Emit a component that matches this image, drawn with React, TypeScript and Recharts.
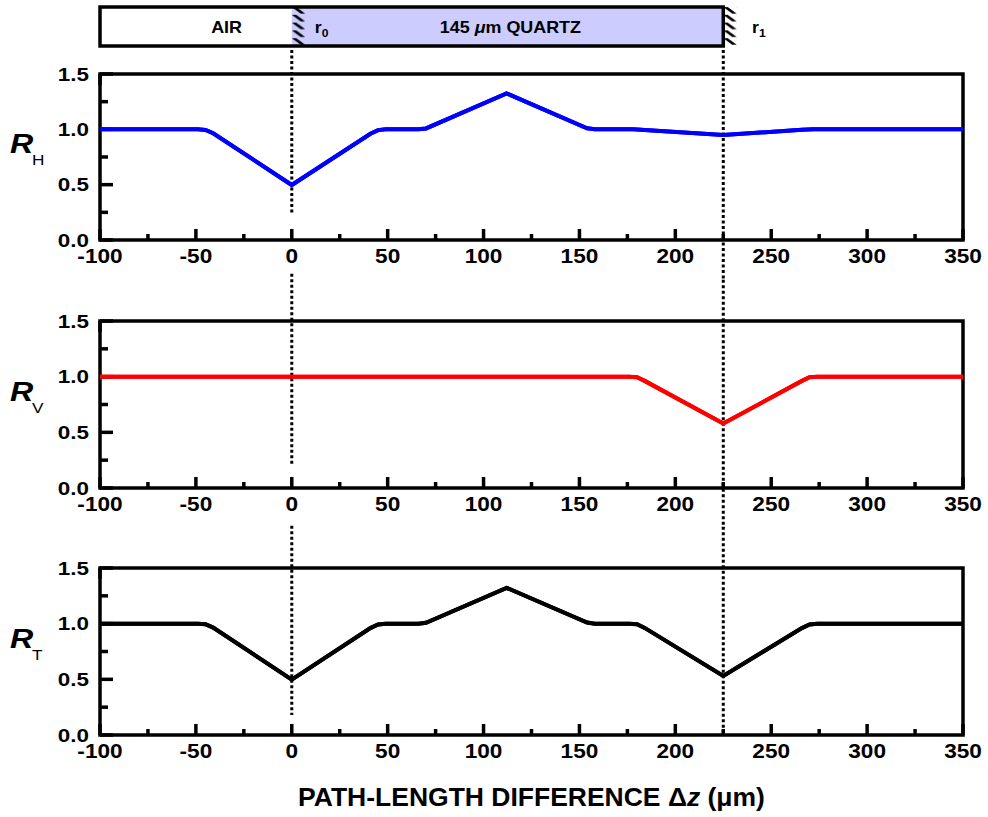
import React from 'react';
import { LineChart, Line, XAxis, YAxis, ReferenceArea, ReferenceLine, ReferenceDot } from 'recharts';

const X_TICKS = [-100, -75, -50, -25, 0, 25, 50, 75, 100, 125, 150, 175, 200, 225, 250, 275, 300, 325, 350];
const Y_TICKS = [0, 0.25, 0.5, 0.75, 1, 1.25, 1.5];
const X_DOMAIN: [number, number] = [-100, 350];
const Y_DOMAIN: [number, number] = [0, 1.5];

const RH_DATA = [
  { z: -100, r: 1.0 }, { z: -49, r: 1.0 }, { z: -45, r: 0.995 }, { z: -41, r: 0.965 },
  { z: 0, r: 0.497 }, { z: 41, r: 0.96 }, { z: 45, r: 0.993 }, { z: 49, r: 1.0 },
  { z: 66, r: 1.0 }, { z: 70, r: 1.008 }, { z: 112, r: 1.325 }, { z: 154, r: 1.01 },
  { z: 158, r: 1.0 }, { z: 178, r: 1.0 }, { z: 225, r: 0.948 }, { z: 266, r: 0.996 },
  { z: 272, r: 1.0 }, { z: 350, r: 1.0 },
];
const RV_DATA = [
  { z: -100, r: 1.0 }, { z: 176, r: 1.0 }, { z: 180, r: 0.995 }, { z: 184, r: 0.962 },
  { z: 225, r: 0.58 }, { z: 266, r: 0.962 }, { z: 270, r: 0.995 }, { z: 274, r: 1.0 },
  { z: 350, r: 1.0 },
];
const RT_DATA = [
  { z: -100, r: 1.0 }, { z: -49, r: 1.0 }, { z: -45, r: 0.995 }, { z: -41, r: 0.965 },
  { z: 0, r: 0.497 }, { z: 41, r: 0.96 }, { z: 45, r: 0.993 }, { z: 49, r: 1.0 },
  { z: 66, r: 1.0 }, { z: 70, r: 1.008 }, { z: 112, r: 1.322 }, { z: 154, r: 1.01 },
  { z: 158, r: 1.0 }, { z: 176, r: 1.0 }, { z: 180, r: 0.995 }, { z: 184, r: 0.962 },
  { z: 225, r: 0.53 }, { z: 266, r: 0.96 }, { z: 270, r: 0.993 }, { z: 274, r: 1.0 },
  { z: 350, r: 1.0 },
];

// dotted interface markers (x value, from y, to y) per panel
const P1_DOTTED = [{ x: 0, y1: 1.717, y2: 0.226 }, { x: 225, y1: 1.717, y2: -0.37 }];
const P2_DOTTED = [{ x: 0, y1: 1.925, y2: 0.208 }, { x: 225, y1: 1.87, y2: -0.361 }];
const P3_DOTTED = [{ x: 0, y1: 1.88, y2: 0.18 }, { x: 225, y1: 1.87, y2: -0.01 }];

// sample bar above first panel
const BAR_Y: [number, number] = [1.753, 2.105];
const BAR_MID = 1.929;
const AIR_RANGE: [number, number] = [-100, 0];
const QUARTZ_RANGE: [number, number] = [0, 225];
const HATCHES: [number, number][] = [[0, 7], [225, 232]];
const BAR_LABELS = [
  { x: -34, text: 'AIR', sub: '' },
  { x: 14, text: 'r', sub: '0' },
  { x: 114, text: 'QUARTZ', sub: '' },
  { x: 242, text: 'r', sub: '1' },
];

const FONT = '"Liberation Sans", Arial, Helvetica, sans-serif';
const SX = 1.2;
const W = 988;
const M_TOP = 73;
const M_RIGHT = 24;
const LEFT_W = 100;

const isMajorX = (v: number) => Math.abs(v % 50) < 1e-9;
const isMajorY = (v: number) => Math.abs(v * 2 - Math.round(v * 2)) < 1e-9;

function SText({ x, y, anchor = 'middle', size, weight = 'bold', sx = SX, children }: any) {
  return (
    <text
      transform={`translate(${x},${y}) scale(${sx},1)`}
      x={0}
      y={0}
      textAnchor={anchor}
      fontFamily={FONT}
      fontSize={size}
      fontWeight={weight}
      fill="#000"
    >
      {children}
    </text>
  );
}

const BottomTick = (p: any) => {
  const v = p.payload.value;
  const major = isMajorX(v);
  return (
    <g>
      <line x1={p.x} x2={p.x} y1={p.y} y2={p.y - (major ? 11 : 6)} stroke="#000" strokeWidth={3.5} />
      {major && (
        <SText x={p.x} y={p.y + 23} size={19.5} sx={1.16}>
          {String(v)}
        </SText>
      )}
    </g>
  );
};

const TopTick = (p: any) => {
  const v = p.payload.value;
  const major = isMajorX(v);
  return <line x1={p.x} x2={p.x} y1={p.y} y2={p.y + (major ? 11 : 6)} stroke="#000" strokeWidth={3.5} />;
};

const LeftTick = (p: any) => {
  const v = p.payload.value;
  const major = isMajorY(v);
  return (
    <g>
      <line x1={p.x} x2={p.x + (major ? 13 : 8)} y1={p.y} y2={p.y} stroke="#000" strokeWidth={3.5} />
      {major && (
        <SText x={p.x - 11} y={p.y + 6.5} size={19} anchor="end" sx={1.18}>
          {v.toFixed(1)}
        </SText>
      )}
    </g>
  );
};

const RightTick = (p: any) => {
  const v = p.payload.value;
  const major = isMajorY(v);
  return <line x1={p.x} x2={p.x - (major ? 13 : 8)} y1={p.y} y2={p.y} stroke="#000" strokeWidth={3.5} />;
};

const RLabel = (sub: string) => (p: any) => {
  const vb = p.viewBox || {};
  const cy = vb.y + vb.height / 2;
  return (
    <g>
      <SText x={vb.x + 10} y={cy - 4} size={28} anchor="start" sx={1.15}>
        <tspan fontStyle="italic">R</tspan>
      </SText>
      <SText x={vb.x + 32} y={cy + 8} size={15} anchor="start" weight="normal" sx={1.15}>
        {sub}
      </SText>
    </g>
  );
};

const TitleLabel = (p: any) => {
  const vb = p.viewBox || {};
  return (
    <SText x={vb.x + vb.width / 2} y={vb.y + 71} size={25} sx={1.06}>
      <tspan>PATH-LENGTH DIFFERENCE </tspan>
      <tspan>Δ</tspan>
      <tspan fontStyle="italic">z</tspan>
      <tspan> (μm)</tspan>
    </SText>
  );
};

const barLabel = (item: { text: string; sub: string }) => (p: any) => {
  const vb = p.viewBox || {};
  const cx = vb.x + (vb.width || 0) / 2;
  const cy = vb.y + (vb.height || 0) / 2;
  if (item.text === 'QUARTZ') {
    return (
      <SText x={cx} y={cy + 6} size={16} sx={1.12}>
        <tspan>145 </tspan>
        <tspan fontStyle="italic">μ</tspan>
        <tspan>m QUARTZ</tspan>
      </SText>
    );
  }
  if (item.sub) {
    return (
      <g>
        <SText x={cx - 4} y={cy + 6} size={16} anchor="start" sx={1.1}>
          {item.text}
        </SText>
        <SText x={cx + 3} y={cy + 10} size={11} anchor="start" sx={1.1}>
          {item.sub}
        </SText>
      </g>
    );
  }
  return (
    <SText x={cx} y={cy + 6} size={16} sx={1.12}>
      {item.text}
    </SText>
  );
};

function Panel({ data, color, sub, top, height, axisHeight, dotted, showBar, title }: any) {
  return (
    <div style={{ position: 'absolute', left: 0, top, width: W, height }}>
      <div style={{ position: 'absolute', left: 0, top: 0 }}>
        <LineChart width={W} height={height} data={data} margin={{ top: M_TOP, right: M_RIGHT, bottom: 0, left: 0 }}>
          <defs>
            <pattern id={`hatch${sub}`} patternUnits="objectBoundingBox" width="1" height="0.2" patternContentUnits="objectBoundingBox">
              <polygon points="0,0 0.33,0 1,0.17 0.67,0.17" fill="#000" />
            </pattern>
          </defs>
          <XAxis
            dataKey="z"
            type="number"
            domain={X_DOMAIN}
            ticks={X_TICKS}
            interval={0}
            height={axisHeight}
            axisLine={false}
            tickLine={false}
            tickSize={0}
            tickMargin={0}
            tick={BottomTick}
            label={title ? TitleLabel : undefined}
          />
          <XAxis
            xAxisId="top"
            orientation="top"
            type="number"
            domain={X_DOMAIN}
            ticks={X_TICKS}
            interval={0}
            height={1}
            axisLine={false}
            tickLine={false}
            tickSize={0}
            tickMargin={0}
            tick={TopTick}
          />
          <YAxis
            type="number"
            domain={Y_DOMAIN}
            ticks={Y_TICKS}
            interval={0}
            width={LEFT_W}
            axisLine={false}
            tickLine={false}
            tickSize={0}
            tickMargin={0}
            tick={LeftTick}
            label={RLabel(sub)}
          />
          <YAxis
            yAxisId="right"
            orientation="right"
            type="number"
            domain={Y_DOMAIN}
            ticks={Y_TICKS}
            interval={0}
            width={1}
            axisLine={false}
            tickLine={false}
            tickSize={0}
            tickMargin={0}
            tick={RightTick}
          />
          {showBar && (
            <ReferenceArea x1={AIR_RANGE[0]} x2={AIR_RANGE[1]} y1={BAR_Y[0]} y2={BAR_Y[1]} ifOverflow="visible" fill="#ffffff" fillOpacity={1} stroke="none" />
          )}
          {showBar && (
            <ReferenceArea x1={QUARTZ_RANGE[0]} x2={QUARTZ_RANGE[1]} y1={BAR_Y[0]} y2={BAR_Y[1]} ifOverflow="visible" fill="#ccccff" fillOpacity={1} stroke="none" />
          )}
          {showBar &&
            HATCHES.map((h, i) => (
              <ReferenceArea key={`h${i}`} x1={h[0]} x2={h[1]} y1={BAR_Y[0]} y2={BAR_Y[1]} ifOverflow="visible" fill={`url(#hatch${sub})`} fillOpacity={1} stroke="none" />
            ))}
          {showBar && (
            <ReferenceArea x1={AIR_RANGE[0]} x2={QUARTZ_RANGE[1]} y1={BAR_Y[0]} y2={BAR_Y[1]} ifOverflow="visible" fill="none" stroke="#000" strokeWidth={3.5} />
          )}
          {showBar &&
            BAR_LABELS.map((b, i) => (
              <ReferenceDot key={`b${i}`} x={b.x} y={BAR_MID} r={1} ifOverflow="visible" fill="none" stroke="none" label={barLabel(b)} />
            ))}
          {dotted.map((d: any, i: number) => (
            <ReferenceLine
              key={`d${i}`}
              segment={[{ x: d.x, y: d.y1 }, { x: d.x, y: d.y2 }]}
              ifOverflow="visible"
              stroke="#000"
              strokeWidth={3}
              strokeDasharray="3 2.5"
            />
          ))}
          <ReferenceArea x1={X_DOMAIN[0]} x2={X_DOMAIN[1]} y1={Y_DOMAIN[0]} y2={Y_DOMAIN[1]} fill="none" stroke="#000" strokeWidth={3.5} />
          <Line type="linear" dataKey="r" stroke={color} strokeWidth={4} dot={false} isAnimationActive={false} />
        </LineChart>
      </div>
      {/* same series again in an overlay with the same plot area, so it sits above the frame ticks */}
      <div style={{ position: 'absolute', left: 0, top: 0 }}>
        <LineChart width={W} height={height} data={data} margin={{ top: M_TOP, right: M_RIGHT, bottom: 0, left: 0 }}>
          <XAxis dataKey="z" type="number" domain={X_DOMAIN} ticks={X_TICKS} height={axisHeight} axisLine={false} tickLine={false} tick={false} />
          <XAxis xAxisId="top" orientation="top" type="number" domain={X_DOMAIN} height={1} axisLine={false} tickLine={false} tick={false} />
          <YAxis type="number" domain={Y_DOMAIN} ticks={Y_TICKS} width={LEFT_W} axisLine={false} tickLine={false} tick={false} />
          <YAxis yAxisId="right" orientation="right" type="number" domain={Y_DOMAIN} width={1} axisLine={false} tickLine={false} tick={false} />
          <Line type="linear" dataKey="r" stroke={color} strokeWidth={4} dot={false} isAnimationActive={false} />
        </LineChart>
      </div>
    </div>
  );
}

export default function App() {
  return (
    <div style={{ position: 'absolute', left: 0, top: 0, width: W, height: 817, background: '#fff', overflow: 'hidden' }}>
      <Panel data={RH_DATA} color="#0000ff" sub="H" top={0} height={285} axisHeight={45} dotted={P1_DOTTED} showBar />
      <Panel data={RV_DATA} color="#ff0000" sub="V" top={247} height={286} axisHeight={45} dotted={P2_DOTTED} />
      <Panel data={RT_DATA} color="#000000" sub="T" top={494} height={323} axisHeight={82} dotted={P3_DOTTED} title />
    </div>
  );
}
